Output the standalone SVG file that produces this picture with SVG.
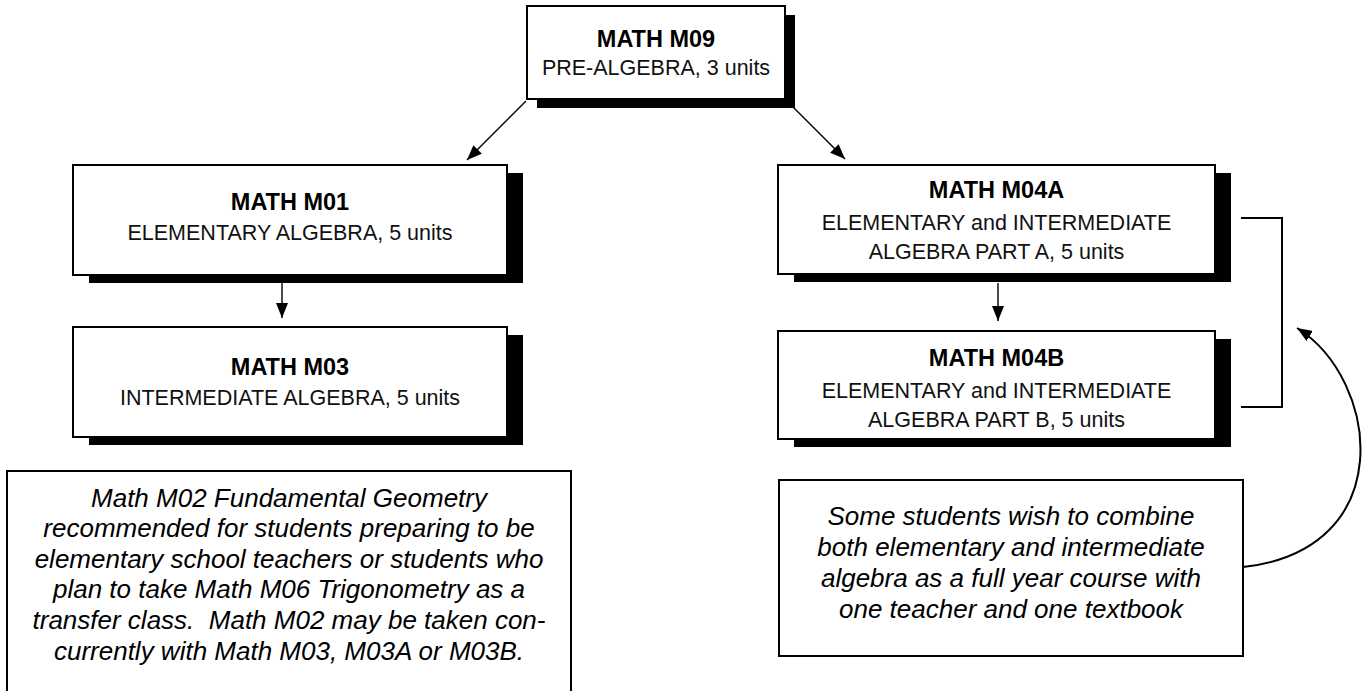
<svg xmlns="http://www.w3.org/2000/svg" width="1366" height="691" viewBox="0 0 1366 691">
<defs>
<style>
.box{fill:#fff;stroke:#000;stroke-width:2}
.sh{fill:#000}
.t{font-family:"Liberation Sans",Arial,Helvetica,sans-serif;text-anchor:middle;fill:#000}
.b{font-weight:bold;font-size:23.5px}
.r{font-size:21.5px;fill:#111}
.i{font-style:italic;font-size:26px}
.note{fill:#fff;stroke:#000;stroke-width:2}
.ln{fill:none;stroke:#000;stroke-width:1.4}
.br{fill:none;stroke:#000;stroke-width:2}
</style>
<marker id="ah" markerUnits="userSpaceOnUse" markerWidth="16" markerHeight="12" refX="15" refY="6" orient="auto">
<path d="M0,0 L15,6 L0,12 z" fill="#000"/>
</marker>
</defs>
<rect width="1366" height="691" fill="#fff"/>

<g id="connectors">
<line class="ln" x1="526" y1="101" x2="467" y2="160" marker-end="url(#ah)"/>
<line class="ln" x1="793" y1="107" x2="845" y2="159" marker-end="url(#ah)"/>
<line class="ln" x1="282" y1="283" x2="282" y2="318" marker-end="url(#ah)"/>
<line class="ln" x1="998" y1="283" x2="998" y2="321" marker-end="url(#ah)"/>
<path class="br" d="M1241,218 H1282 V407 H1241"/>
<path class="br" d="M1243,567 C1400,550 1380,380 1297,328" marker-end="url(#ah)"/>
</g>

<g id="m09">
<rect class="sh" x="537" y="15" width="258" height="93"/>
<rect class="box" x="527" y="6" width="258" height="93"/>
<text class="t b" x="656" y="47">MATH M09</text>
<text class="t r" x="656" y="75">PRE-ALGEBRA, 3 units</text>
</g>

<g id="m01">
<rect class="sh" x="89" y="173" width="434" height="110"/>
<rect class="box" x="73" y="165" width="434" height="110"/>
<text class="t b" x="290" y="210">MATH M01</text>
<text class="t r" x="290" y="240">ELEMENTARY ALGEBRA, 5 units</text>
</g>

<g id="m03">
<rect class="sh" x="89" y="335" width="434" height="110"/>
<rect class="box" x="73" y="327" width="434" height="110"/>
<text class="t b" x="290" y="375">MATH M03</text>
<text class="t r" x="290" y="405">INTERMEDIATE ALGEBRA, 5 units</text>
</g>

<g id="m04a">
<rect class="sh" x="794" y="173" width="437" height="109"/>
<rect class="box" x="778" y="165" width="437" height="109"/>
<text class="t b" x="996.5" y="198">MATH M04A</text>
<text class="t r" x="996.5" y="230">ELEMENTARY and INTERMEDIATE</text>
<text class="t r" x="996.5" y="259">ALGEBRA PART A, 5 units</text>
</g>

<g id="m04b">
<rect class="sh" x="794" y="339" width="437" height="108"/>
<rect class="box" x="778" y="331" width="437" height="108"/>
<text class="t b" x="996.5" y="366">MATH M04B</text>
<text class="t r" x="996.5" y="398">ELEMENTARY and INTERMEDIATE</text>
<text class="t r" x="996.5" y="427">ALGEBRA PART B, 5 units</text>
</g>

<g id="note-m02">
<rect class="note" x="7" y="471" width="564" height="240"/>
<text class="t i" x="289" y="507">Math M02 Fundamental Geometry</text>
<text class="t i" x="289" y="537">recommended for students preparing to be</text>
<text class="t i" x="289" y="568">elementary school teachers or students who</text>
<text class="t i" x="289" y="598">plan to take Math M06 Trigonometry as a</text>
<text class="t i" x="289" y="629">transfer class.&#160; Math M02 may be taken con-</text>
<text class="t i" x="289" y="660">currently with Math M03, M03A or M03B.</text>
</g>

<g id="note-combine">
<rect class="note" x="779" y="480" width="464" height="176"/>
<text class="t i" x="1011" y="525">Some students wish to combine</text>
<text class="t i" x="1011" y="556">both elementary and intermediate</text>
<text class="t i" x="1011" y="587">algebra as a full year course with</text>
<text class="t i" x="1011" y="618">one teacher and one textbook</text>
</g>
</svg>
